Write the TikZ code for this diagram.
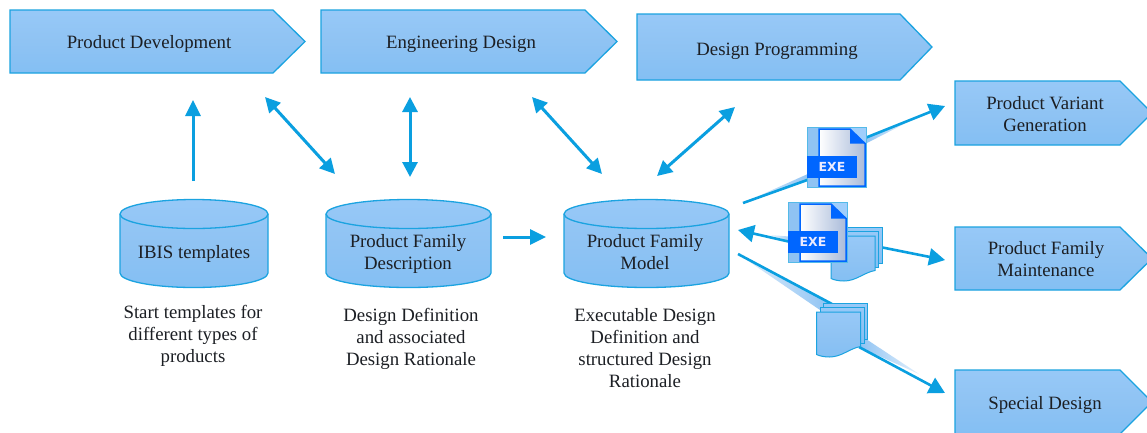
\documentclass[tikz,border=0pt]{standalone}
\usepackage{fontspec}
\setmainfont{Liberation Serif}
\newfontfamily\exefont[Scale=1]{DejaVu Sans}
\usetikzlibrary{arrows.meta}
\definecolor{edgeblue}{HTML}{1BA3E0}
\definecolor{arrowblue}{HTML}{0A9FE0}
\definecolor{shadetop}{HTML}{9FCEFC}
\definecolor{shademid}{HTML}{8FC3F3}
\definecolor{shadebot}{HTML}{78BBF2}
\definecolor{inkdark}{HTML}{1C1F24}
\definecolor{exeblue}{HTML}{0066FF}
\definecolor{pagegrey}{HTML}{A9BBDA}
\pgfdeclareverticalshading{boxshade}{100bp}{color(0bp)=(shadebot); color(50bp)=(shademid); color(100bp)=(shadetop)}
\tikzset{
  x=1pt,y=-1pt,
  shapebox/.style={draw=edgeblue,line width=1.3pt,shading=boxshade,line join=miter},
  label/.style={text=inkdark,font=\fontsize{18.8}{22}\selectfont,align=center,inner sep=0pt},
  link/.style={draw=arrowblue,line width=3pt,-{Triangle[length=16pt,width=15pt]}},
  plainlink/.style={draw=arrowblue,line width=2.6pt},
  biglink/.style={draw=arrowblue,line width=2.6pt,-{Triangle[length=16pt,width=17pt]}},
  bothlink/.style={draw=arrowblue,line width=3pt,{Triangle[length=15pt,width=15pt]}-{Triangle[length=15pt,width=15pt]}},
}
\newcommand{\pentagon}[8]{%
  \path[shapebox] (#2,#3) -- (#4,#3) -- (#5,{(#3+#6)/2}) -- (#4,#6) -- (#2,#6) -- cycle;
  \node[label] (#1) at (#7) {#8};
}
\newcommand{\drum}[6]{%
  \path[shapebox] (#2,#4+15) arc[x radius={(#3-#2)/2},y radius=14.5,start angle=180,end angle=360]
     -- (#3,#4+74) arc[x radius={(#3-#2)/2},y radius=14.5,start angle=0,end angle=180] -- cycle;
  \draw[edgeblue,line width=1.3pt] (#2,#4+15) arc[x radius={(#3-#2)/2},y radius=14.5,start angle=180,end angle=0];
  \node[label] (#1) at (#5) {#6};
}
\newcommand{\sheetstack}[3]{%
  \begin{scope}[shift={(#1,#2)}]
    \path[shapebox,line width=1pt] (0,0) rectangle (44,36);
    \path[shapebox,line width=1pt] (-3.5,4.5) rectangle (40.5,40.5);
    \path[shapebox,line width=1pt] (-7,9) -- (37,9) -- (37,43.5)
      .. controls (26,45.5) and (18,54) .. (6,54) .. controls (1,54) and (-4,53) .. (-7,51.5) -- cycle;
    \coordinate (#3) at (15,27);
  \end{scope}
}
\newcommand{\exeicon}[3]{%
  \begin{scope}[shift={(#1,#2)}]
    \fill[shadetop] (0,0) rectangle (59,60);
    \fill[shademid] (0,0) rectangle (12,60);
    \draw[edgeblue!75,line width=.9pt] (0,0) rectangle (59,60);
    \shade[left color=white,right color=pagegrey] (12,2) -- (43,2) -- (58,16.5) -- (58,59) -- (12,59) -- cycle;
    \draw[exeblue,line width=1.5pt] (12,2) -- (43,2) -- (58,16.5) -- (58,59) -- (12,59) -- cycle;
    \fill[exeblue] (43,2) -- (58,16.5) -- (43,16.5) -- cycle;
    \fill[exeblue] (0,29) rectangle (50,51);
    \node[text=white!92!blue,inner sep=0pt,font=\exefont\bfseries\fontsize{12.5}{12.5}\selectfont] (#3) at (25,40) {EXE};
  \end{scope}
}
\begin{document}
\begin{tikzpicture}
\clip (0,0) rectangle (1147,432);
\useasboundingbox (0,0) rectangle (1147,432);
\fill[white] (0,0) rectangle (1147,432);

\pentagon{pd}{10}{10}{273}{305}{73}{149,44}{Product Development}
\pentagon{ed}{321}{10}{585}{617}{73}{461,44}{Engineering Design}
\pentagon{dp}{637}{14}{900}{932}{80}{777,51}{Design Programming}
\pentagon{pv}{955}{81}{1120}{1152}{145}{1045,114}{Product Variant\\Generation}
\pentagon{pm}{955}{227}{1120}{1152}{290}{1046,259}{Product Family\\Maintenance}
\pentagon{sd}{955}{370}{1120}{1152}{434}{1045,405}{Special Design}

\drum{ibis}{120}{268}{199}{194,254}{IBIS templates}
\drum{desc}{326}{491}{199}{408,254}{Product Family\\Description}
\drum{model}{564}{729}{199}{645,252}{Product Family\\Model}

\node[label] (capa) at (193,336) {Start templates for\\different types of\\products};
\node[label] (capb) at (411,339) {Design Definition\\and associated\\Design Rationale};
\node[label] (capc) at (645,348) {Executable Design\\Definition and\\structured Design\\Rationale};

\coordinate (a1) at (193,181); \coordinate (a2) at (193,100);
\coordinate (b1) at (265,97);  \coordinate (b2) at (335,174);
\coordinate (c1) at (410,97);  \coordinate (c2) at (410,177);
\coordinate (d1) at (532,97);  \coordinate (d2) at (602,174);
\coordinate (e1) at (735,107); \coordinate (e2) at (657,176);
\coordinate (f1) at (503,237); \coordinate (f2) at (546,237);
\coordinate (g1) at (743,203); \coordinate (g3) at (810,179);
\coordinate (g4) at (865,138); \coordinate (g2) at (945,106);
\coordinate (h1) at (795,243); \coordinate (h2) at (738,230);
\coordinate (i1) at (875,246); \coordinate (i2) at (945,260);
\coordinate (j1) at (738,254); \coordinate (j3) at (832,304);
\coordinate (j4) at (859,347); \coordinate (j2) at (945,393);

\draw[link] (a1) -- (a2);
\draw[bothlink] (b1) -- (b2);
\draw[bothlink] (c1) -- (c2);
\draw[bothlink] (d1) -- (d2);
\draw[bothlink] (e1) -- (e2);
\draw[link] (f1) -- (f2);

\shade[left color=shademid!25,right color=shademid] (743,203) -- (810,173) -- (810,180) -- cycle;
\shade[left color=shademid,right color=shademid!25] (865,137) -- (865,144) -- (908,122) -- cycle;
\shade[left color=shademid!25,right color=shademid] (738,254) -- (830,303) -- (820,310) -- cycle;
\shade[left color=shademid,right color=shademid!25] (859,347) -- (866,339) -- (919,374) -- cycle;
\shade[left color=shademid!15,right color=shademid] (770,235) -- (795,237) -- (795,243) -- cycle;

\draw[plainlink] (g1) -- (g3);
\draw[biglink] (g4) -- (g2);
\draw[biglink] (h1) -- (h2);
\draw[biglink] (i1) -- (i2);
\draw[plainlink] (j1) -- (j3);
\draw[biglink] (j4) -- (j2);

\sheetstack{838}{227}{stacka}
\sheetstack{823.5}{303}{stackb}
\exeicon{807}{127}{exea}
\exeicon{788}{202}{exeb}
\end{tikzpicture}
\end{document}
